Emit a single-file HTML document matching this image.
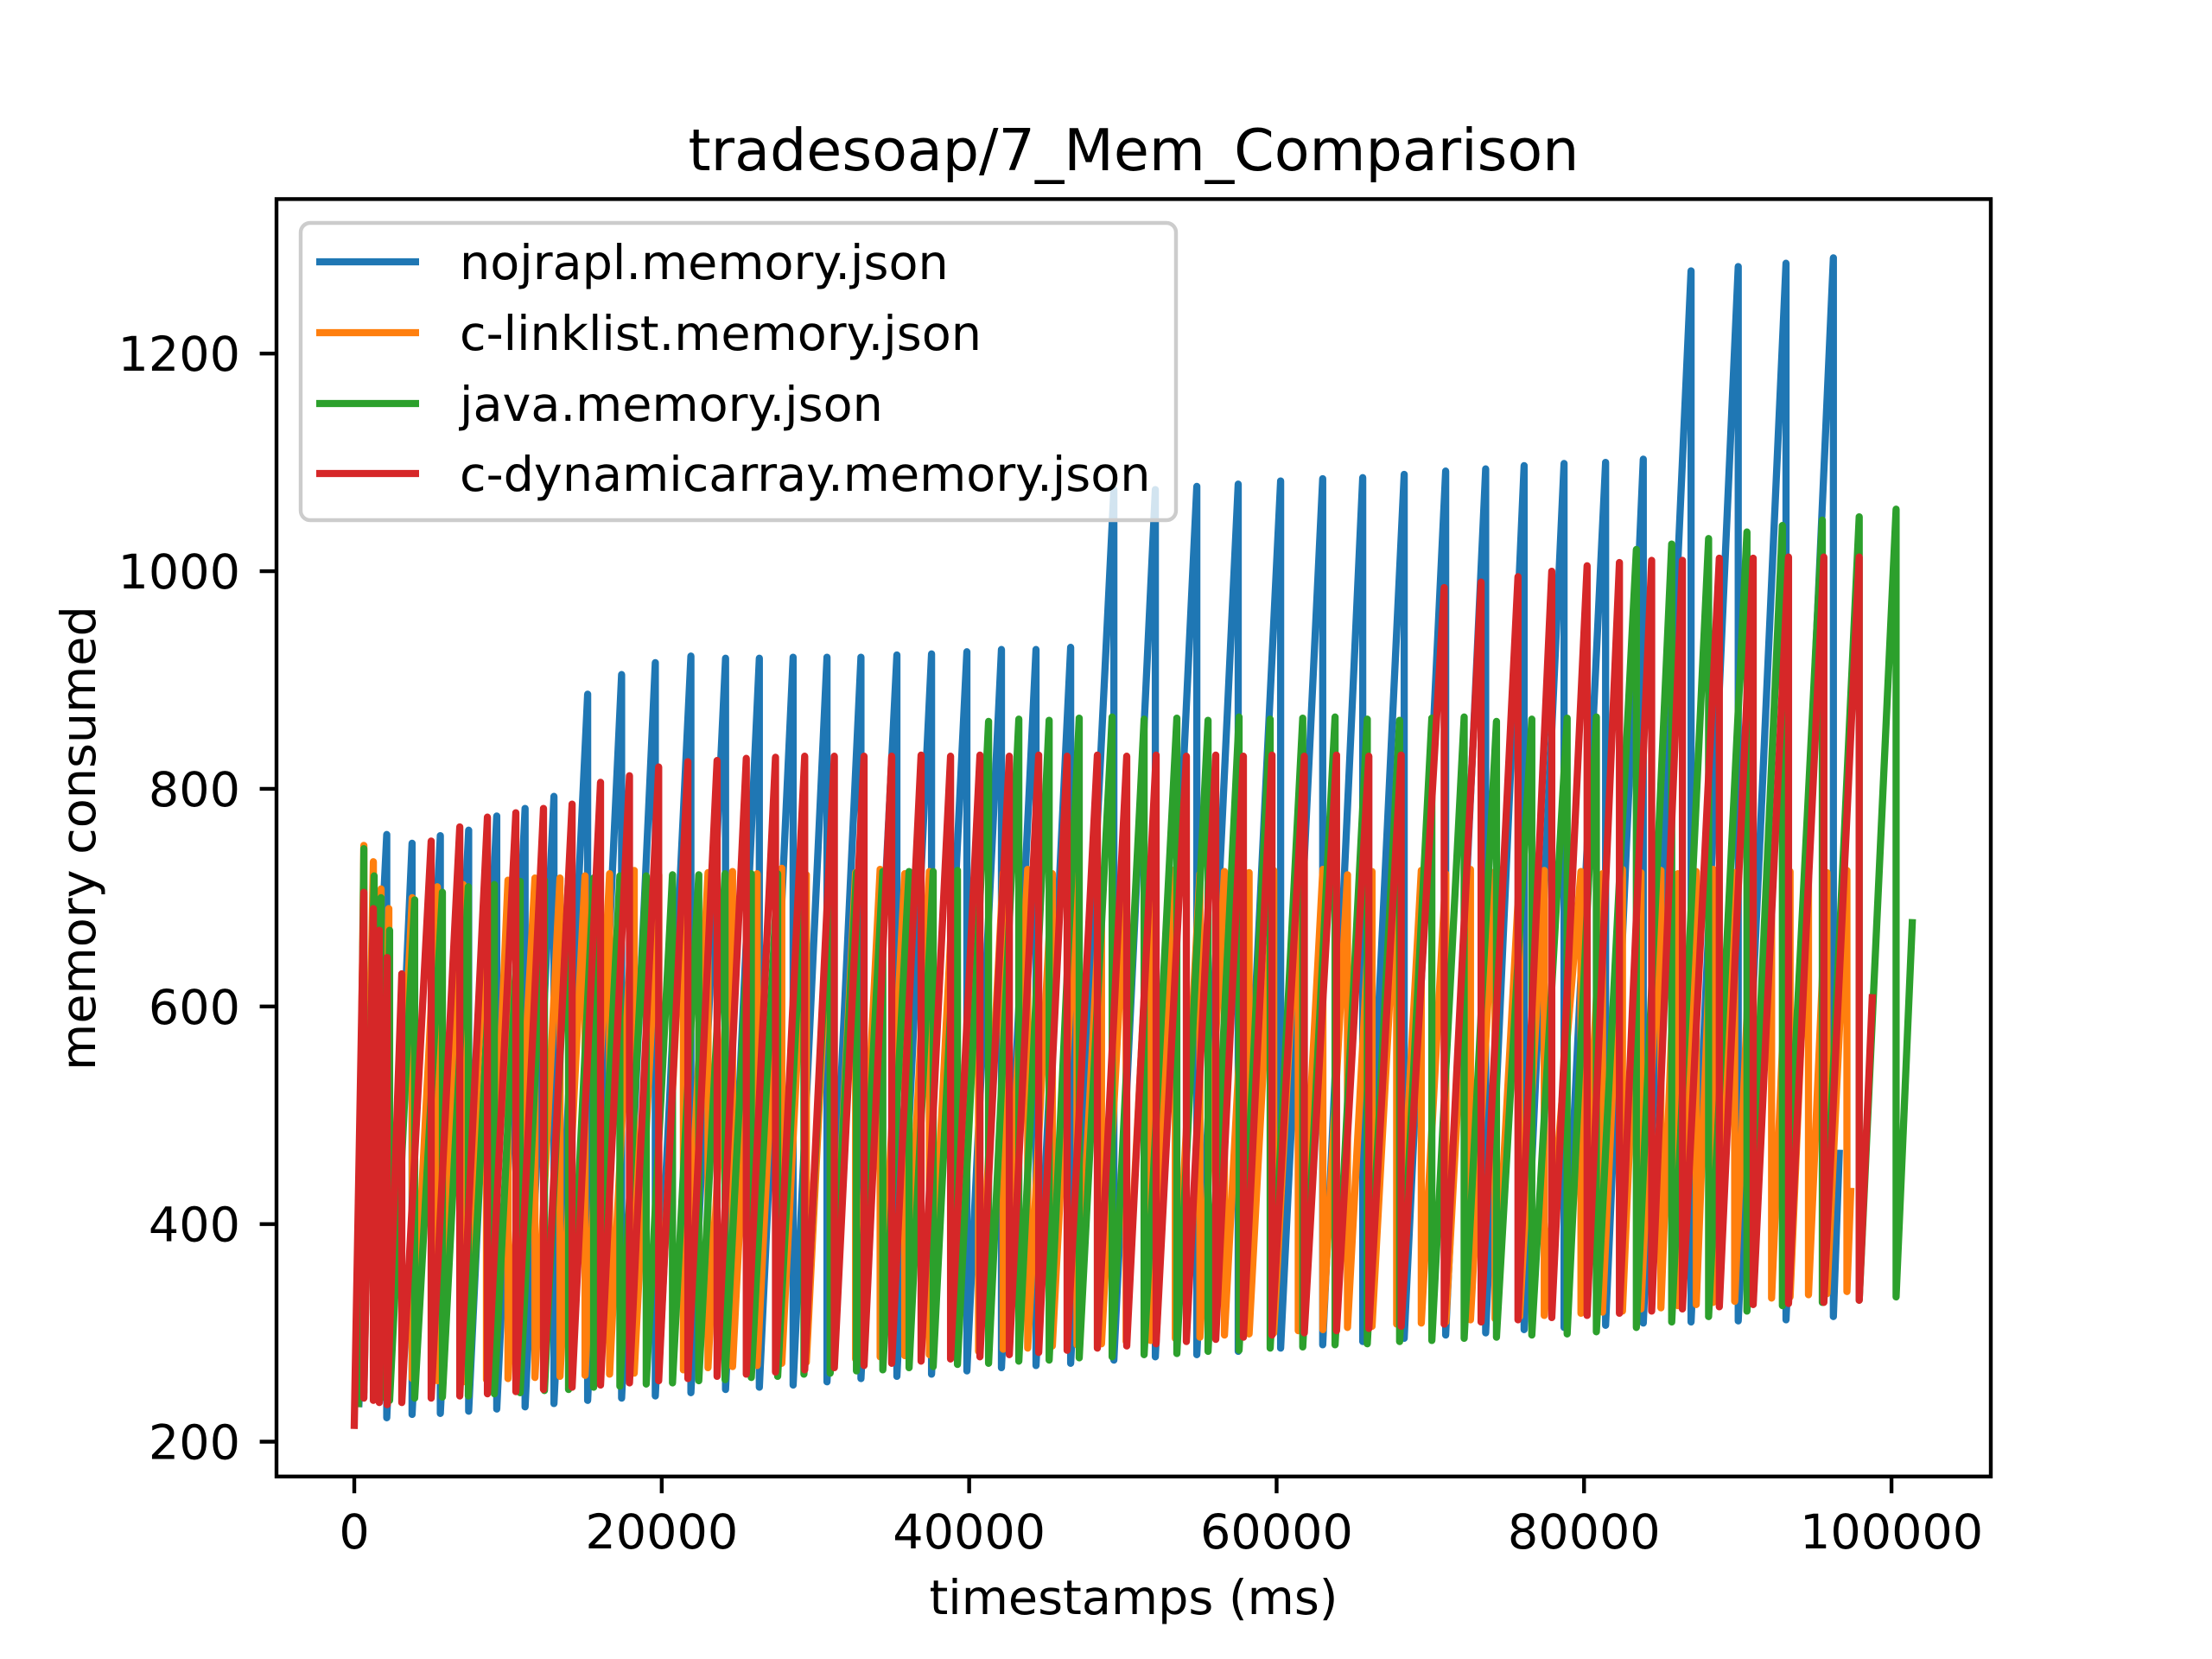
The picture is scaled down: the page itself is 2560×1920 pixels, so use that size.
<!DOCTYPE html>
<html><head><meta charset="utf-8"><title>tradesoap/7_Mem_Comparison</title>
<style>html,body{margin:0;padding:0;background:#fff}svg{display:block}text{font-family:"DejaVu Sans","Liberation Sans",sans-serif;fill:#000}</style>
</head><body>
<svg id="chart" width="2560" height="1920" viewBox="0 0 2560 1920" xmlns="http://www.w3.org/2000/svg">
<rect x="0" y="0" width="2560" height="1920" fill="#fff"/>
<defs><clipPath id="axclip"><rect x="320" y="230.4" width="1984" height="1478.4"/></clipPath></defs>
<g id="series" clip-path="url(#axclip)"></g>
<rect x="320" y="230.4" width="1984" height="1478.4" fill="none" stroke="#000" stroke-width="4.4"/>
<g id="xticks"></g>
<g id="yticks"></g>
<text x="1312" y="197" font-size="66.7" text-anchor="middle">tradesoap/7_Mem_Comparison</text>
<text x="1312" y="1868" font-size="55.6" text-anchor="middle">timestamps (ms)</text>
<text x="0" y="0" font-size="55.6" text-anchor="middle" transform="translate(110,970) rotate(-90)">memory consumed</text>
<g id="legend">
<rect x="348" y="258" width="1013" height="344" rx="11" fill="#fff" fill-opacity="0.8" stroke="#cccccc" stroke-width="4.4"/>
</g>
</svg>
<script>
const NS="http://www.w3.org/2000/svg";
const xTicks=[0,20000,40000,60000,80000,100000];
const xTickLabels=["0","20000","40000","60000","80000","100000"];
const yTicks=[200,400,600,800,1000,1200];
const yTickLabels=["200","400","600","800","1000","1200"];
const seriesNames=["nojrapl.memory.json","c-linklist.memory.json","java.memory.json","c-dynamicarray.memory.json"];
const seriesColors=["#1f77b4","#ff7f0e","#2ca02c","#d62728"];

const bluePeakT=[2110,3760,5600,7440,9270,11110,12990,15180,17390,19580,21900,24150,26350,28550,30750,32960,35300,37550,39850,42100,44350,46600,49410,52110,54810,57500,60260,63000,65600,68300,71000,73600,76100,78700,81400,83850,86960,90030,93140,96220];
const bluePeakV=[758,750,757,762,775,782,793,887,905,916,922,920,920,921,921,921,923,924,926,928,928,930,1075,1075,1078,1080,1083,1085,1086,1089,1092,1094,1097,1099,1100,1103,1276,1280,1283,1288];
const blueTroughV=[222,225,226,228,230,232,235,238,240,242,245,248,250,252,255,258,260,262,265,268,270,272,275,278,280,283,286,289,292,295,298,300,303,305,307,309,310,311,312,315];
const blueStart=[300,235];
const blueEnd=[96600,465];

const orangePeakT=[620,1240,1740,2250,3770,5400,7080,8600,10000,11750,13380,15010,16610,18210,19810,21410,23010,24610,26210,27810,29410,31010,32610,34210,35810,37410,39010,40610,42210,43810,45410,47010,48610,50210,51810,53410,55010,56610,58210,59810,61410,63010,64610,66210,67810,69410,71010,72610,74210,75810,77410,79800,81200,82500,83700,85000,86100,87300,88400,89800,91000,92200,93400,94600,95800,97100];
const orangePeakV=[748,733,708,690,700,710,712,714,716,718,718,720,722,725,721,726,723,724,722,727,721,725,723,726,722,724,721,725,723,726,722,724,723,725,721,726,722,724,723,725,722,726,721,724,723,725,722,726,724,723,725,724,722,726,723,725,722,724,726,723,725,722,724,726,723,725];
const orangeTroughV=[272,268,265,262,258,256,255,257,258,259,260,261,262,263,265,266,268,269,270,272,273,275,276,278,279,280,282,283,285,286,288,289,290,292,293,295,296,298,299,300,302,303,305,306,308,309,310,312,313,315,316,318,319,320,322,323,325,326,328,329,330,332,333,335,336,338];
const orangeStart=[200,240];
const orangeEnd=[97350,430];

const greenPeakT=[620,1290,1740,2300,3930,5730,7420,9110,10790,12370,13940,15570,17280,18990,20700,22410,24120,25830,27540,29250,30960,32670,34380,36090,37660,39240,41260,43230,45200,47160,49300,51380,53510,55540,57560,59580,61700,63800,65900,68000,70100,72200,74300,76600,78900,80800,83400,85700,88100,90600,92900,95500,97900,100300];
const greenPeakV=[745,720,700,670,698,705,710,712,715,716,718,718,720,720,721,721,722,722,722,723,723,723,724,724,724,725,862,864,863,865,866,864,865,863,866,864,865,866,864,863,865,866,862,864,865,866,1020,1025,1030,1036,1042,1047,1050,1057];
const greenTroughV=[245,242,240,238,240,241,242,244,245,247,248,250,251,253,254,256,257,259,260,262,263,265,266,268,269,271,272,274,275,277,278,280,281,283,284,286,287,289,290,292,293,295,296,298,299,301,305,310,315,320,325,328,330,333];
const greenStart=[250,235];
const greenEnd=[101350,677];

const redPeakT=[620,1240,1630,2140,3090,5000,6860,8660,10510,12310,14170,16020,17900,19800,21700,23600,25500,27400,29300,31230,33160,34960,36870,38790,40700,42610,44520,46370,48340,50250,52160,54130,56040,57840,59700,61800,63900,66000,68100,70900,73300,75700,77900,80200,82300,84400,86400,88800,91000,93300,95600,97900];
const redPeakV=[705,690,670,645,630,752,765,774,778,782,786,806,812,820,825,826,828,829,830,830,830,830,831,830,831,830,831,830,831,830,831,830,831,830,831,830,831,830,831,985,990,995,1000,1005,1008,1010,1010,1012,1012,1013,1013,1013];
const redTroughV=[240,238,236,234,236,240,242,244,246,248,250,252,254,256,258,260,262,264,266,268,270,272,274,276,278,280,282,284,286,288,290,292,294,296,298,300,302,304,306,308,310,312,314,316,318,320,322,324,326,327,328,330];
const redStart=[0,215];
const redEnd=[98750,608];

const X0=320,X1=2304,Y0=1708.8,Y1=230.4;
const XMIN=-5060,XMAX=106460,YMIN=168,YMAX=1342;
function xs(t){return X0+(t-XMIN)/(XMAX-XMIN)*(X1-X0);}
function ys(v){return Y0-(v-YMIN)/(YMAX-YMIN)*(Y0-Y1);}

function buildPath(start,pt,pv,tv,end){
  let d="M"+xs(start[0]).toFixed(1)+","+ys(start[1]).toFixed(1);
  for(let i=0;i<pt.length;i++){
    d+=" L"+xs(pt[i]).toFixed(1)+","+ys(pv[i]).toFixed(1);
    d+=" L"+xs(pt[i]).toFixed(1)+","+ys(tv[i]).toFixed(1);
  }
  d+=" L"+xs(end[0]).toFixed(1)+","+ys(end[1]).toFixed(1);
  return d;
}
const allSeries=[
  [blueStart,bluePeakT,bluePeakV,blueTroughV,blueEnd],
  [orangeStart,orangePeakT,orangePeakV,orangeTroughV,orangeEnd],
  [greenStart,greenPeakT,greenPeakV,greenTroughV,greenEnd],
  [redStart,redPeakT,redPeakV,redTroughV,redEnd]
];
const seriesSlugs=["nojrapl-line","c-linklist-line","java-line","c-dynamicarray-line"];
const sg=document.getElementById("series");
allSeries.forEach((s,i)=>{
  const p=document.createElementNS(NS,"path");
  p.setAttribute("d",buildPath(s[0],s[1],s[2],s[3],s[4]));
  p.setAttribute("fill","none");
  p.setAttribute("stroke",seriesColors[i]);
  p.setAttribute("stroke-width","8.3");
  p.setAttribute("stroke-linejoin","round");
  p.setAttribute("stroke-linecap","square");
  
  
  sg.appendChild(p);
});

const xg=document.getElementById("xticks");
xTicks.forEach((t,i)=>{
  const x=xs(t);
  const l=document.createElementNS(NS,"line");
  l.setAttribute("x1",x);l.setAttribute("x2",x);
  l.setAttribute("y1",Y0);l.setAttribute("y2",Y0+19.4);
  l.setAttribute("stroke","#000");l.setAttribute("stroke-width","4.4");
  
  
  xg.appendChild(l);
  const tx=document.createElementNS(NS,"text");
  tx.setAttribute("x",x);tx.setAttribute("y",1792);
  tx.setAttribute("font-size","55.6");tx.setAttribute("text-anchor","middle");
  tx.textContent=xTickLabels[i];
  
  
  xg.appendChild(tx);
});
const yg=document.getElementById("yticks");
yTicks.forEach((v,i)=>{
  const y=ys(v);
  const l=document.createElementNS(NS,"line");
  l.setAttribute("x1",X0-19.4);l.setAttribute("x2",X0);
  l.setAttribute("y1",y);l.setAttribute("y2",y);
  l.setAttribute("stroke","#000");l.setAttribute("stroke-width","4.4");
  
  
  yg.appendChild(l);
  const tx=document.createElementNS(NS,"text");
  tx.setAttribute("x",278);tx.setAttribute("y",y+20);
  tx.setAttribute("font-size","55.6");tx.setAttribute("text-anchor","end");
  tx.textContent=yTickLabels[i];
  
  
  yg.appendChild(tx);
});

const lg=document.getElementById("legend");
const rowY=[303,385,467,548];
seriesNames.forEach((n,i)=>{
  const l=document.createElementNS(NS,"line");
  l.setAttribute("x1",366);l.setAttribute("x2",485);
  l.setAttribute("y1",rowY[i]);l.setAttribute("y2",rowY[i]);
  l.setAttribute("stroke",seriesColors[i]);l.setAttribute("stroke-width","8.3");
  
  
  lg.appendChild(l);
  const tx=document.createElementNS(NS,"text");
  tx.setAttribute("x",532);tx.setAttribute("y",rowY[i]+20);
  tx.setAttribute("font-size","55.6");
  tx.textContent=n;
  
  
  lg.appendChild(tx);
});
</script>
</body></html>
